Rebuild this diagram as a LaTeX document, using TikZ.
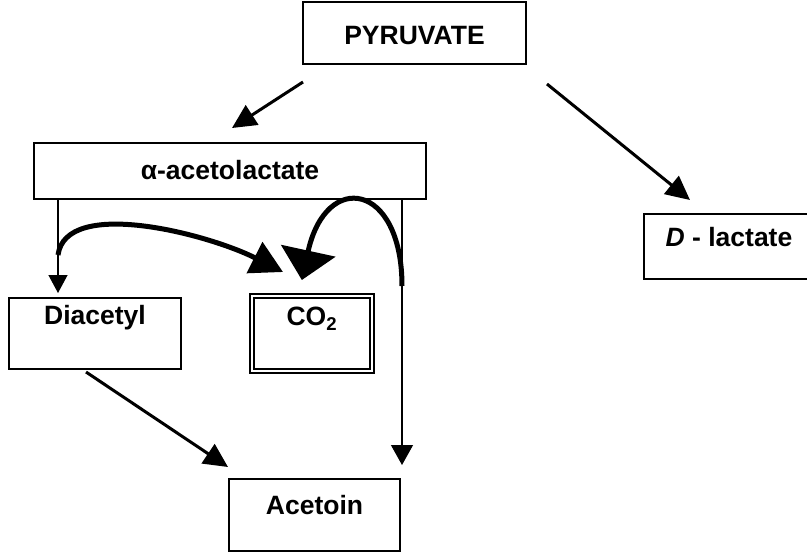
\documentclass[tikz,border=0pt]{standalone}
\usepackage{fontspec}
\setmainfont{Liberation Sans}
\usetikzlibrary{arrows.meta, calc}

\begin{document}
\begin{tikzpicture}[x=1pt, y=-1pt,
        mol/.style={draw, line width=2pt, inner sep=0pt, font=\fontsize{26.5}{31}\selectfont\bfseries},
        arr/.style={line width=3pt, -{Triangle[length=24pt,width=23pt]}},
        vline/.style={line width=1.3pt},
        swoop/.style={line width=5pt}]
        \useasboundingbox (0,0) rectangle (807,552);

        \node [mol, anchor=north west, minimum width=223pt, text height=42pt, text depth=20pt] (pyr) at (302,1) {PYRUVATE};
        \node [mol, anchor=north west, minimum width=392pt, text height=36pt, text depth=20pt] (acl) at (33,142) {α-acetolactate};
        \node [mol, anchor=north west, minimum width=172pt, text height=26pt, text depth=45pt] (dia) at (8,297) {Diacetyl};
        \node [mol, anchor=north west, minimum width=120pt, text height=30pt, text depth=45pt, double, double distance=2pt, line width=1.7pt] (co2) at (251,295) {CO\textsubscript{2}};
        \node [mol, anchor=north west, minimum width=171pt, text height=35pt, text depth=37pt] (act) at (228,478) {Acetoin};
        \node [mol, anchor=north west, minimum width=170pt, text height=32pt, text depth=33pt] (dlac) at (643,213) {\textit{D} - lactate};

        \coordinate (l1) at ($(acl.south west)+(25,55)$);
        \coordinate (r1) at ($(acl.south east)+(-25,86)$);

        \draw[arr] ($(pyr.south west)+(1,17)$) -- ($(acl.north west)+(199,-14)$);
        \draw[arr] ($(pyr.south east)+(20,19)$) -- ($(dlac.north west)+(47,-13)$);
        \draw[vline, -{Triangle[length=18pt,width=19pt]}] ($(acl.south west)+(25,0)$) -- ($(dia.north west)+(50,-4)$);
        \draw[vline, -{Triangle[length=20pt,width=22pt]}] ($(acl.south east)+(-25,0)$) -- ($(act.north east)+(1,-13)$);
        \draw[arr] ($(dia.south)+(-9,2)$) -- ($(act.north west)+(0,-11)$);
        \draw[swoop, -{Triangle[length=32pt,width=34pt]}] (l1) .. controls +(8,-58) and +(-75,-38) .. ($(co2.north west)+(32,-23)$);
        \draw[swoop, -{Triangle[length=30pt,width=55pt]}] (r1) .. controls +(0,-104) and +(24,-110) .. ($(co2.north)+(-10,-15)$);
    \end{tikzpicture}
\end{document}
